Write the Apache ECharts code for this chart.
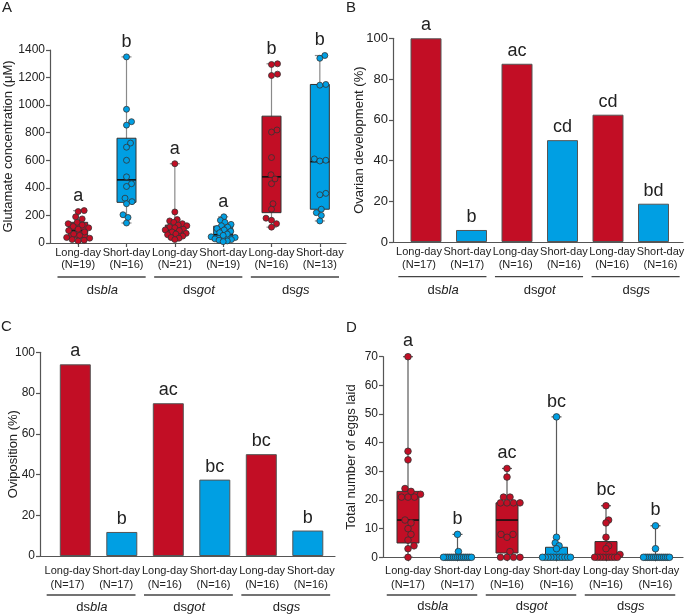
<!DOCTYPE html>
<html><head><meta charset="utf-8">
<script src="https://cdn.jsdelivr.net/npm/echarts@6/dist/echarts.min.js"></script>
<style>html,body{margin:0;padding:0;background:#fff}#c{width:685px;height:615px}</style>
</head><body><div id="c"></div>
<script>
// ---------------- data ----------------
const conditions = ['Long-day','Short-day','Long-day','Short-day','Long-day','Short-day'];
const genes = ['bla','got','gs'];

// A: glutamate concentration (µM)
const glutN = [19,16,21,19,16,13];
const glutPoints = [
  [235,228,190,175,150,140,130,120,110,100,90,80,65,55,40,35,25,20,15],
  [1350,970,880,855,725,695,600,480,430,410,325,300,285,205,185,145],
  [575,225,170,160,150,140,130,125,115,110,100,95,90,80,70,65,60,50,40,35,25],
  [190,165,150,135,125,115,105,95,85,75,65,55,45,40,30,25,20,15,10],
  [1300,1295,1225,1215,820,805,620,495,465,430,285,245,180,165,140,115],
  [1360,1340,1150,1145,610,600,595,360,350,245,220,200,160]
];
const glutQ1 = [35,295,55,25,220,245];
const glutMedian = [90,458,95,60,480,590];
const glutQ3 = [150,760,130,122,920,1150];
const glutLetters = ['a','b','a','a','b','b'];
const glutTicks = [0,200,400,600,800,1000,1200,1400];

// B: ovarian development (%)
const ovaryN = [17,17,16,16,16,16];
const ovaryPct = [100,5.9,87.5,50,62.5,18.8];
const ovaryLetters = ['a','b','ac','cd','cd','bd'];
const pctTicks = [0,20,40,60,80,100];

// C: oviposition (%)
const ovipN = [17,17,16,16,16,16];
const ovipPct = [94.1,11.8,75,37.5,50,12.5];
const ovipLetters = ['a','b','ac','bc','bc','b'];

// D: total number of eggs laid
const eggN = [17,17,16,16,16,16];
const eggPoints = [
  [70,37,34,24,23,22,21,21,21,13,12,10,8,6,4,3,0],
  [8,2,0,0,0,0,0,0,0,0,0,0,0,0,0,0,0],
  [31,28,21,21,19,19,19,19,8,8,7,2,0,0,0,0],
  [49,7,5,4,3,0,0,0,0,0,0,0,0,0,0,0],
  [18,13,12,7,4,3,1,0,0,0,0,0,0,0,0,0],
  [11,3,0,0,0,0,0,0,0,0,0,0,0,0,0,0]
];
const eggQ1 = [5,0,1.5,0,0,0];
const eggMedian = [13,0,13,0,0,0];
const eggQ3 = [23,0,19,3.5,5.5,0];
const eggLetters = ['a','b','ac','bc','bc','b'];
const eggTicks = [0,10,20,30,40,50,60,70];

// ---------------- style ----------------
const FONT = '"Liberation Sans", Arial, Helvetica, sans-serif';
const RED = '#C20E25', BLUE = '#009FE3', INK = '#222', AXIS = '#555';
const colorOf = i => conditions[i] === 'Long-day' ? RED : BLUE;

const panels = [
  { letter:'A', type:'box', points:glutPoints, q1:glutQ1, med:glutMedian, q3:glutQ3, N:glutN, letters:glutLetters,
    ticks:glutTicks, yname:'Glutamate concentration (μM)', frame:[50,50,296,193], dataX:[54,290], labelX:[54,290],
    xticks:true, nameGap:35.5, labelLH:12, labelMargin:4, lineOff:34, groupMargin:39.5, letterXY:[2,0],
    dotR:3, boxW:19, maxSpread:12, whisker:'#8a8a8a', tickFont:12, yMargin:5 },
  { letter:'B', type:'bar', values:ovaryPct, N:ovaryN, letters:ovaryLetters,
    ticks:pctTicks, yname:'Ovarian development (%)', frame:[393,38.3,290,203.7], dataX:[403.25,273], labelX:[394.85,289.8],
    xticks:false, nameGap:27, labelLH:13, labelMargin:3.5, lineOff:34.7, groupMargin:40.5, letterXY:[346,0], barW:31, tickFont:13, yMargin:5 },
  { letter:'C', type:'bar', values:ovipPct, N:ovipN, letters:ovipLetters,
    ticks:pctTicks, yname:'Oviposition (%)', frame:[40,352.3,295,203.7], dataX:[52.05,279], labelX:[43.17,292],
    xticks:false, nameGap:20, labelLH:14, labelMargin:8, lineOff:39, groupMargin:43.5, letterXY:[1,319], barW:31, tickFont:12, yMargin:5 },
  { letter:'D', type:'box', points:eggPoints, q1:eggQ1, med:eggMedian, q3:eggQ3, N:eggN, letters:eggLetters,
    ticks:eggTicks, yname:'Total number of eggs laid', frame:[383,356.7,300,200.6], dataX:[383.25,297], labelX:[383.25,297],
    xticks:true, nameGap:25.5, labelLH:14, labelMargin:7, lineOff:37.7, groupMargin:42, letterXY:[346,320],
    dotR:3.3, boxW:22, maxSpread:14, whisker:'#5a5a5a', tickFont:12, yMargin:5 }
];

// deterministic beeswarm offsets in pixel space
function swarm(ys, r, maxW) {
  const order = ys.map((y,k)=>k).sort((a,b)=>ys[b]-ys[a]);
  const placed = [], off = new Array(ys.length).fill(0);
  const d = 2*r*0.95;
  for (const k of order) {
    const y = ys[k];
    let best = 0;
    for (let s = 0; s < 400; s++) {
      const c = s === 0 ? 0 : (s % 2 ? 1 : -1) * Math.ceil(s/2) * 0.5;
      if (placed.every(p => (p.x-c)*(p.x-c) + (p.y-y)*(p.y-y) >= d*d)) { best = c; break; }
    }
    placed.push({x:best, y}); off[k] = best;
  }
  const m = Math.max.apply(null, off.map(Math.abs));
  if (m > maxW) for (let k = 0; k < off.length; k++) off[k] *= maxW / m;
  return off;
}

function boxRenderer(P) {
  return function(params, api) {
    const i = api.value(0);
    const cx = api.coord([i, 0])[0];
    const py = v => api.coord([i, v])[1];
    const pts = P.points[i];
    const vmin = Math.min.apply(null, pts), vmax = Math.max.apply(null, pts);
    const yq1 = py(api.value(1)), ymed = py(api.value(2)), yq3 = py(api.value(3));
    const ymin = py(vmin), ymax = py(vmax);
    const col = colorOf(i);
    const ch = [];
    ch.push({type:'line', shape:{x1:cx,y1:ymax,x2:cx,y2:ymin}, style:{stroke:P.whisker, lineWidth:1.2}});
    ch.push({type:'line', shape:{x1:cx-5,y1:ymax,x2:cx+5,y2:ymax}, style:{stroke:P.whisker, lineWidth:1.2}});
    ch.push({type:'line', shape:{x1:cx-5,y1:ymin,x2:cx+5,y2:ymin}, style:{stroke:P.whisker, lineWidth:1.2}});
    ch.push({type:'rect', shape:{x:cx-P.boxW/2, y:yq3, width:P.boxW, height:Math.max(yq1-yq3,0)},
      style:{fill:col, stroke:'#333', lineWidth:1}});
    ch.push({type:'line', shape:{x1:cx-P.boxW/2,y1:ymed,x2:cx+P.boxW/2,y2:ymed}, style:{stroke:'#111', lineWidth:1.6}});
    const ys = pts.map(py);
    const off = swarm(ys, P.dotR, P.maxSpread);
    ys.forEach((y,k) => ch.push({type:'circle', shape:{cx:cx+off[k], cy:y, r:P.dotR},
      style:{fill:col, stroke:'#333', lineWidth:0.8}}));
    ch.push({type:'text', style:{text:P.letters[i], x:cx, y:ymax-P.dotR-3, align:'center', verticalAlign:'bottom',
      fontSize:18, fontFamily:FONT, fill:INK}});
    return {type:'group', children:ch};
  };
}

function groupLineRenderer(P) {
  return function(params, api) {
    const g = api.value(0);
    const w = api.size([1,0])[0];
    const x0 = api.coord([2*g, 0])[0] - w/2 + 3.5;
    const x1 = api.coord([2*g+1, 0])[0] + w/2 - 5;
    const y = api.coord([2*g, 0])[1] + P.lineOff;
    return {type:'line', shape:{x1:x0,y1:y,x2:x1,y2:y}, style:{stroke:'#444', lineWidth:1.3}};
  };
}

const option = {
  animation:false, backgroundColor:'#fff',
  textStyle:{fontFamily:FONT},
  title:[], grid:[], xAxis:[], yAxis:[], series:[]
};

panels.forEach((P, p) => {
  const [fl, ft, fw, fh] = P.frame;
  const ymaxV = P.ticks[P.ticks.length-1], yint = P.ticks[1]-P.ticks[0];
  option.title.push({text:P.letter, left:P.letterXY[0], top:P.letterXY[1], padding:0,
    textStyle:{fontSize:15, fontWeight:'normal', color:INK, fontFamily:FONT}});
  const gF = option.grid.length;
  option.grid.push({left:fl, top:ft, width:fw, height:fh, outerBoundsMode:'none', containLabel:false});
  option.grid.push({left:P.dataX[0], top:ft, width:P.dataX[1], height:fh, outerBoundsMode:'none', containLabel:false});
  option.grid.push({left:P.labelX[0], top:ft, width:P.labelX[1], height:fh, outerBoundsMode:'none', containLabel:false});
  const xF = option.xAxis.length, yF = option.yAxis.length;
  // frame axes
  option.xAxis.push({type:'value', gridIndex:gF, min:0, max:1, axisLine:{show:true, onZero:false, lineStyle:{color:AXIS, width:1.2}},
    axisTick:{show:false}, axisLabel:{show:false}, splitLine:{show:false}});
  option.yAxis.push({type:'value', gridIndex:gF, min:0, max:ymaxV, interval:yint,
    name:P.yname, nameLocation:'middle', nameGap:P.nameGap, nameMoveOverlap:false,
    nameTextStyle:{fontSize:13, color:INK, fontFamily:FONT},
    axisLine:{show:true, lineStyle:{color:AXIS, width:1.2}}, axisTick:{show:true, length:4, lineStyle:{color:AXIS, width:1.2}},
    axisLabel:{margin:P.yMargin, fontSize:P.tickFont, color:INK, fontFamily:FONT, formatter:v => String(v)},
    splitLine:{show:false}});
  // data axes
  option.xAxis.push({type:'category', gridIndex:gF+1, data:conditions.map((c,i)=>i), show:false});
  option.yAxis.push({type:'value', gridIndex:gF+1, min:0, max:ymaxV, show:false, splitLine:{show:false}});
  // label axes
  option.xAxis.push({type:'category', gridIndex:gF+2, data:conditions, position:'bottom',
    axisLine:{show:false}, axisTick:{show:P.xticks, alignWithLabel:true, length:4, lineStyle:{color:AXIS, width:1.2}},
    axisLabel:{interval:0, margin:P.labelMargin, fontSize:11, lineHeight:P.labelLH, color:INK, fontFamily:FONT,
      formatter:(v, idx) => v + '\n(N=' + P.N[idx] + ')'}});
  option.xAxis.push({type:'category', gridIndex:gF+2, data:genes, position:'bottom',
    axisLine:{show:false}, axisTick:{show:false},
    axisLabel:{interval:0, margin:P.groupMargin, formatter:v => '{n|ds}{i|' + v + '}',
      rich:{n:{fontSize:13, lineHeight:15, color:INK, fontFamily:FONT}, i:{fontSize:13, lineHeight:15, fontStyle:'italic', color:INK, fontFamily:FONT}}}});
  option.yAxis.push({type:'value', gridIndex:gF+2, min:0, max:1, show:false, splitLine:{show:false}});

  if (P.type === 'box') {
    option.series.push({type:'custom', xAxisIndex:xF+1, yAxisIndex:yF+1, clip:false,
      renderItem:boxRenderer(P),
      encode:{x:0, y:[1,2,3]},
      data:conditions.map((c,i)=>[i, P.q1[i], P.med[i], P.q3[i]])});
  } else {
    option.series.push({type:'bar', xAxisIndex:xF+1, yAxisIndex:yF+1, barWidth:P.barW,
      data:P.values.map((v,i)=>({value:v, itemStyle:{color:colorOf(i), borderColor:'#555', borderWidth:1}})),
      label:{show:true, position:'top', distance:4, fontSize:18, color:INK, fontFamily:FONT,
        formatter:prm => P.letters[prm.dataIndex]}});
  }
  option.series.push({type:'custom', xAxisIndex:xF+2, yAxisIndex:yF+2, clip:false,
    renderItem:groupLineRenderer(P), encode:{x:0, y:1},
    data:genes.map((g,k)=>[k, 0])});
});

const chart = echarts.init(document.getElementById('c'));
chart.setOption(option);
</script></body></html>
